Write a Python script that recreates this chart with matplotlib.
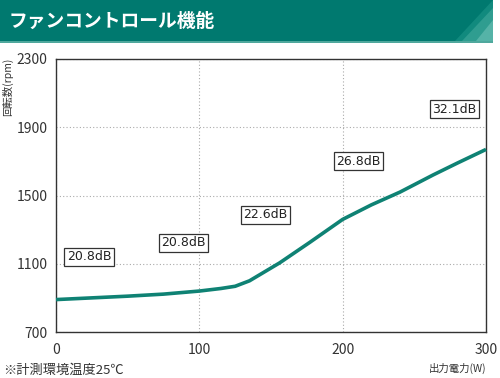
import matplotlib
matplotlib.use("Agg")
import matplotlib.pyplot as plt
from matplotlib.patches import Rectangle, Polygon
import numpy as np

plt.rcParams['font.family'] = ['Noto Sans CJK JP', 'DejaVu Sans']

# Data
power_w = [0, 25, 50, 75, 100, 115, 125, 135, 156, 177, 200, 220, 240, 263, 280, 300]
rpm = [890, 900, 910, 922, 940, 955, 968, 1000, 1105, 1225, 1360, 1445, 1520, 1620, 1690, 1770]

label_texts = ["20.8dB", "20.8dB", "22.6dB", "26.8dB", "32.1dB"]
label_x = [23, 89, 146, 211, 278]
label_y = [1141, 1223, 1388, 1700, 2006]

x_ticks = [0, 100, 200, 300]
y_ticks = [700, 1100, 1500, 1900, 2300]

title = "ファンコントロール機能"
ylabel = "回転数(rpm)"
xlabel = "出力電力(W)"
footnote = "※計測環境温度25℃"

teal = "#00796f"
line_color = "#0f8274"
text_color = "#333333"

fig = plt.figure(figsize=(5.0, 3.78), dpi=100)

# Title bar
bar = fig.add_axes([0, 0, 1, 1], zorder=0)
bar.set_xlim(0, 500)
bar.set_ylim(378, 0)
bar.axis("off")
bar.add_patch(Rectangle((0, 0), 493, 41, color=teal, lw=0))
bar.add_patch(Polygon([[493, 0], [493, 41], [455, 41]], closed=True, color="#118a7e", lw=0))
bar.add_patch(Polygon([[493, 8], [493, 41], [462, 41]], closed=True, color="#2f9d90", lw=0))
bar.add_patch(Polygon([[493, 20], [493, 41], [476, 41]], closed=True, color="#55b3a7", lw=0))
bar.add_patch(Rectangle((0, 41), 493, 1.5, color="#4fa89d", lw=0))
bar.text(9, 21, title, color="white", fontsize=13.5, fontweight="bold",
         va="center", ha="left")

ax = fig.add_axes([56 / 500, 1 - 332 / 378, 430 / 500, 273 / 378], zorder=1)
ax.patch.set_alpha(0)
ax.plot(power_w, rpm, color=line_color, lw=2.6, solid_capstyle="butt", zorder=3,
        clip_on=False)
ax.set_xlim(0, 300)
ax.set_ylim(700, 2300)
ax.set_xticks(x_ticks)
ax.set_yticks(y_ticks)
ax.tick_params(length=0, labelsize=10, colors=text_color, pad=8)
ax.tick_params(axis="y", pad=6)
for s in ax.spines.values():
    s.set_color("#333333")
    s.set_linewidth(1.0)
ax.grid(True, linestyle=(0, (1, 2)), color="#aaaaaa", lw=0.8)

for t, x, y in zip(label_texts, label_x, label_y):
    ax.text(x, y, t, fontsize=9, color="#222222", ha="center", va="center",
            family=["DejaVu Sans"],
            bbox=dict(boxstyle="square,pad=0.2", fc="white", ec="#333333", lw=0.9),
            zorder=4)

fig.text(8 / 500, 1 - 58 / 378, ylabel, rotation=90, fontsize=7.5, color=text_color,
         ha="center", va="top")
fig.text(486 / 500, 1 - 368 / 378, xlabel, fontsize=7.5, color=text_color,
         ha="right", va="center")
fig.text(3 / 500, 1 - 370 / 378, footnote, fontsize=9.5, color=text_color,
         ha="left", va="center")

fig.savefig("out.png", dpi=100)
